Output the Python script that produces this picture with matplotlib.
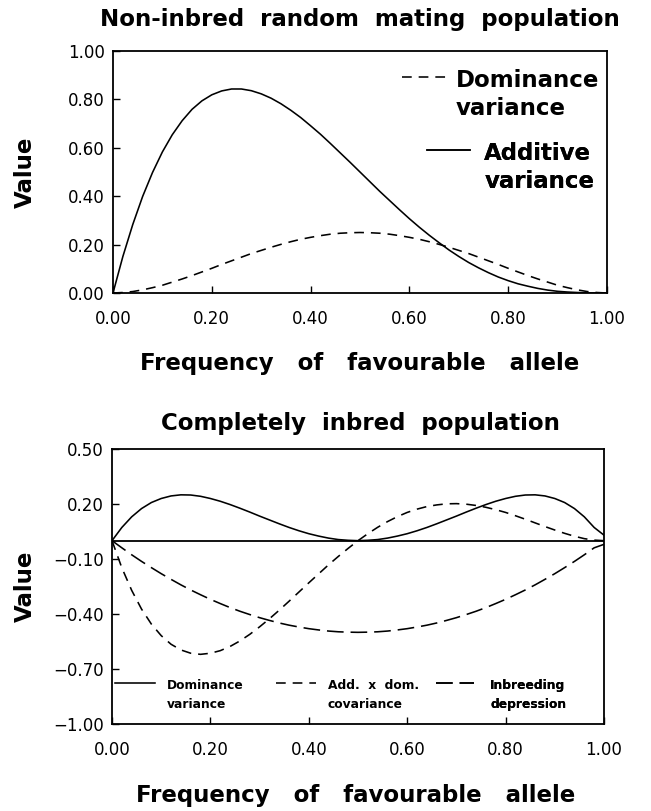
import matplotlib
matplotlib.use("Agg")
import matplotlib.pyplot as plt

# ---------------- data ----------------
p = [0.00, 0.02, 0.04, 0.06, 0.08, 0.10, 0.12, 0.14, 0.16, 0.18,
     0.20, 0.22, 0.24, 0.26, 0.28, 0.30, 0.32, 0.34, 0.36, 0.38,
     0.40, 0.42, 0.44, 0.46, 0.48, 0.50, 0.52, 0.54, 0.56, 0.58,
     0.60, 0.62, 0.64, 0.66, 0.68, 0.70, 0.72, 0.74, 0.76, 0.78,
     0.80, 0.82, 0.84, 0.86, 0.88, 0.90, 0.92, 0.94, 0.96, 0.98,
     1.00]

# Top panel: non-inbred random mating population
additive_var = [0.000, 0.151, 0.283, 0.399, 0.498, 0.583, 0.654, 0.712, 0.759, 0.794,
                0.819, 0.835, 0.843, 0.843, 0.836, 0.823, 0.805, 0.782, 0.755, 0.725,
                0.691, 0.656, 0.618, 0.579, 0.540, 0.500, 0.460, 0.420, 0.382, 0.344,
                0.307, 0.272, 0.239, 0.208, 0.178, 0.151, 0.126, 0.104, 0.084, 0.066,
                0.051, 0.038, 0.028, 0.019, 0.012, 0.007, 0.004, 0.002, 0.001, 0.000,
                0.000]
dominance_var = [0.000, 0.002, 0.006, 0.013, 0.022, 0.032, 0.045, 0.058, 0.072, 0.087,
                 0.102, 0.118, 0.133, 0.148, 0.163, 0.176, 0.189, 0.201, 0.212, 0.222,
                 0.230, 0.237, 0.243, 0.247, 0.249, 0.250, 0.249, 0.247, 0.243, 0.237,
                 0.230, 0.222, 0.212, 0.201, 0.189, 0.176, 0.163, 0.148, 0.133, 0.118,
                 0.102, 0.087, 0.072, 0.058, 0.045, 0.032, 0.022, 0.013, 0.006, 0.002,
                 0.000]

# Bottom panel: completely inbred population
inb_dominance_var = [0.000, 0.072, 0.130, 0.175, 0.208, 0.230, 0.244, 0.250, 0.249, 0.242,
                     0.230, 0.215, 0.197, 0.177, 0.156, 0.134, 0.113, 0.092, 0.072, 0.054,
                     0.038, 0.025, 0.014, 0.006, 0.002, 0.000, 0.002, 0.006, 0.014, 0.025,
                     0.038, 0.054, 0.072, 0.092, 0.113, 0.134, 0.156, 0.177, 0.197, 0.215,
                     0.230, 0.242, 0.249, 0.250, 0.244, 0.230, 0.208, 0.175, 0.130, 0.072,
                     0.030]
add_dom_cov = [0.000, -0.148, -0.271, -0.373, -0.455, -0.518, -0.565, -0.596, -0.614, -0.620,
               -0.614, -0.600, -0.577, -0.547, -0.511, -0.470, -0.426, -0.379, -0.330, -0.280,
               -0.230, -0.181, -0.132, -0.086, -0.042, 0.000, 0.038, 0.073, 0.104, 0.131,
               0.154, 0.172, 0.186, 0.195, 0.201, 0.202, 0.199, 0.192, 0.182, 0.169,
               0.154, 0.136, 0.117, 0.097, 0.077, 0.058, 0.040, 0.024, 0.011, 0.003,
               0.000]
inbreeding_dep = [0.000, -0.039, -0.077, -0.113, -0.147, -0.180, -0.211, -0.241, -0.269, -0.295,
                  -0.320, -0.343, -0.365, -0.385, -0.403, -0.420, -0.435, -0.449, -0.461, -0.471,
                  -0.480, -0.487, -0.493, -0.497, -0.499, -0.500, -0.499, -0.497, -0.493, -0.487,
                  -0.480, -0.471, -0.461, -0.449, -0.435, -0.420, -0.403, -0.385, -0.365, -0.343,
                  -0.320, -0.295, -0.269, -0.241, -0.211, -0.180, -0.147, -0.113, -0.077, -0.039,
                  -0.020]

top_yticks = [0.0, 0.2, 0.4, 0.6, 0.8, 1.0]
bot_yticks = [0.5, 0.2, -0.1, -0.4, -0.7, -1.0]
xticks = [0.0, 0.2, 0.4, 0.6, 0.8, 1.0]

top_title = "Non-inbred  random  mating  population"
bot_title = "Completely  inbred  population"
x_label = "Frequency   of   favourable   allele"
y_label = "Value"

# ---------------- styling ----------------
plt.rcParams["font.family"] = ["DejaVu Sans"]
plt.rcParams["lines.scale_dashes"] = False
plt.rcParams["axes.linewidth"] = 1.3

W, H = 651, 811
fig = plt.figure(figsize=(W / 100, H / 100), dpi=100)

def px_axes(l, t, r, b):
    return fig.add_axes([l / W, 1 - b / H, (r - l) / W, (b - t) / H])

ax1 = px_axes(113, 51, 607, 293)
ax2 = px_axes(112, 449, 604, 724)

SHORT = (7, 5)
LONG = (12, 5)
LW = 1.15
BIGFONT = 16.5

def style_axes(ax, yticks, ylim):
    ax.set_xlim(0, 1)
    ax.set_ylim(*ylim)
    ax.set_xticks(xticks)
    ax.set_yticks(yticks)
    ax.set_xticklabels([f"{v:.2f}" for v in xticks])
    ax.set_yticklabels([f"{v:.2f}".replace("-", "\u2212") for v in yticks])
    ax.tick_params(direction="in", length=5, width=1.0, labelsize=12)
    ax.tick_params(axis="x", pad=12)
    ax.tick_params(axis="y", pad=6)

def top_align(leg):
    try:
        for col in leg._legend_handle_box.get_children():
            for item in col.get_children():
                item.align = "top"
    except Exception:
        pass

def one_legend(ax, handle, label, x, y, size, hlen, pad, lsp):
    leg = ax.legend([handle], [label], loc="upper left", bbox_to_anchor=(x, y),
                    bbox_transform=ax.transAxes, frameon=False, borderpad=0,
                    borderaxespad=0, handlelength=hlen, handletextpad=pad,
                    prop={"weight": "bold", "size": size})
    for t in leg.get_texts():
        t.set_linespacing(lsp)
    top_align(leg)
    ax.add_artist(leg)
    return leg

# ---------------- top panel ----------------
l_dom, = ax1.plot(p, dominance_var, color="black", lw=LW, linestyle=(0, SHORT))
l_add, = ax1.plot(p, additive_var, color="black", lw=LW, linestyle="-")
style_axes(ax1, top_yticks, (0, 1))

one_legend(ax1, l_dom, "Dominance\nvariance", 0.585, 0.926, BIGFONT, 1.92, 0.44, 1.3)
one_legend(ax1, l_add, "Additive\nvariance", 0.636, 0.624, BIGFONT, 1.88, 0.61, 1.3)

# ---------------- bottom panel ----------------
ax2.axhline(0, color="black", lw=1.3)
b_dom, = ax2.plot(p, inb_dominance_var, color="black", lw=LW, linestyle="-")
b_cov, = ax2.plot(p, add_dom_cov, color="black", lw=LW, linestyle=(0, SHORT))
b_id, = ax2.plot(p, inbreeding_dep, color="black", lw=LW, linestyle=(0, LONG))
style_axes(ax2, bot_yticks, (-1.0, 0.5))

SMALL = 8.8
one_legend(ax2, b_dom, "Dominance\nvariance", 0.006, 0.164, SMALL, 3.25, 1.0, 1.6)
one_legend(ax2, b_cov, "Add.  x  dom.\ncovariance", 0.333, 0.164, SMALL, 3.25, 1.0, 1.6)
one_legend(ax2, b_id, "Inbreeding\ndepression", 0.659, 0.164, SMALL, 3.1, 1.3, 1.6)

# ---------------- titles & labels ----------------
cx = 360 / W
fig.text(cx, 1 - 26 / H, top_title, ha="center", va="baseline",
         fontsize=BIGFONT, fontweight="bold")
fig.text(cx, 1 - 370 / H, x_label, ha="center", va="baseline",
         fontsize=BIGFONT, fontweight="bold")
fig.text(cx, 1 - 430 / H, bot_title, ha="center", va="baseline",
         fontsize=BIGFONT, fontweight="bold")
fig.text(cx - 4 / W, 1 - 802 / H, x_label, ha="center", va="baseline",
         fontsize=BIGFONT, fontweight="bold")
fig.text(25 / W, 1 - 172 / H, y_label, ha="center", va="center", rotation=90,
         fontsize=BIGFONT, fontweight="bold")
fig.text(25 / W, 1 - 586 / H, y_label, ha="center", va="center", rotation=90,
         fontsize=BIGFONT, fontweight="bold")

fig.savefig("out.png", dpi=100, facecolor="white")
